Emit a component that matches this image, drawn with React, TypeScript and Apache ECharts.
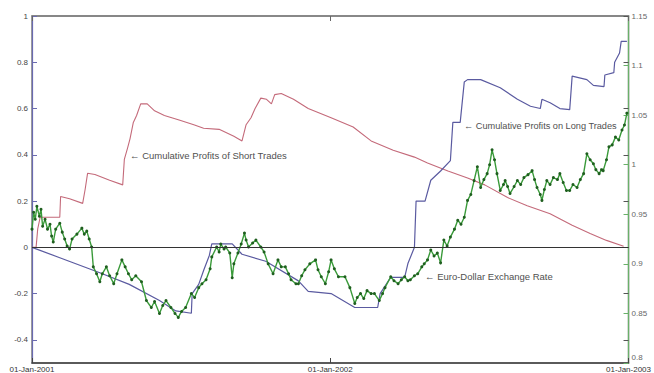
import React, { useEffect, useRef } from "react";
import * as echarts from "echarts";

// x values are days since 01-Jan-2001
const xTickLabels = ["01-Jan-2001", "01-Jan-2002", "01-Jan-2003"];
const leftTickValues = [-0.4, -0.2, 0, 0.2, 0.4, 0.6, 0.8, 1];

const shortDays = [0, 5, 7, 10, 34, 35, 46, 62, 65, 68, 77, 95, 111, 113, 117, 120, 124, 128, 133, 141, 150, 162, 180, 198, 210, 229, 247, 257, 262, 268, 273, 280, 287, 293, 297, 305, 320, 338, 366, 393, 415, 442, 468, 484, 509, 533, 554, 582, 606, 634, 661, 683, 703, 724];
const shortProfit = [0, 0, 0.08, 0.13, 0.13, 0.22, 0.21, 0.19, 0.25, 0.32, 0.315, 0.29, 0.27, 0.38, 0.43, 0.47, 0.54, 0.57, 0.62, 0.62, 0.59, 0.57, 0.55, 0.53, 0.515, 0.51, 0.48, 0.46, 0.53, 0.56, 0.6, 0.645, 0.64, 0.62, 0.66, 0.665, 0.64, 0.6, 0.56, 0.52, 0.46, 0.42, 0.39, 0.365, 0.33, 0.3, 0.27, 0.215, 0.18, 0.145, 0.095, 0.06, 0.03, 0.005];

const longDays = [0, 34, 83, 119, 156, 176, 195, 196, 204, 210, 217, 220, 245, 257, 286, 326, 338, 366, 395, 423, 426, 439, 456, 460, 468, 470, 481, 488, 500, 512, 515, 524, 529, 533, 549, 573, 594, 610, 622, 624, 634, 646, 658, 661, 679, 687, 700, 701, 712, 713, 719, 721, 728];
const longProfit = [0, -0.045, -0.11, -0.16, -0.23, -0.275, -0.285, -0.2, -0.16, -0.1, -0.035, 0.015, 0.015, -0.03, -0.06, -0.145, -0.19, -0.2, -0.26, -0.26, -0.2, -0.13, -0.13, -0.07, 0, 0.2, 0.2, 0.29, 0.33, 0.375, 0.54, 0.54, 0.715, 0.725, 0.725, 0.69, 0.64, 0.61, 0.6, 0.64, 0.625, 0.6, 0.595, 0.74, 0.725, 0.7, 0.695, 0.745, 0.755, 0.8, 0.84, 0.89, 0.89];

const rateDays = [0, 2, 4, 6, 9, 11, 13, 16, 19, 22, 24, 26, 29, 34, 37, 40, 43, 46, 49, 55, 61, 64, 67, 70, 73, 75, 79, 83, 86, 91, 95, 100, 104, 110, 114, 118, 122, 127, 134, 140, 146, 150, 156, 160, 164, 170, 175, 179, 183, 188, 195, 199, 204, 208, 213, 218, 220, 226, 229, 231, 235, 237, 242, 245, 247, 252, 256, 260, 262, 265, 270, 274, 280, 284, 289, 295, 301, 305, 310, 314, 317, 323, 326, 330, 334, 340, 347, 350, 354, 359, 363, 366, 370, 375, 383, 389, 395, 398, 402, 406, 410, 415, 419, 425, 429, 432, 439, 443, 448, 452, 456, 460, 463, 468, 472, 477, 480, 484, 488, 492, 496, 500, 504, 508, 512, 517, 521, 525, 529, 533, 537, 541, 545, 549, 553, 557, 560, 563, 566, 569, 573, 577, 579, 582, 585, 590, 594, 598, 602, 607, 612, 615, 618, 622, 624, 627, 630, 634, 638, 643, 646, 650, 654, 658, 662, 667, 671, 675, 679, 683, 687, 690, 694, 697, 699, 703, 706, 710, 714, 718, 722, 725, 728];
const rate = [0.935, 0.952, 0.945, 0.958, 0.948, 0.955, 0.938, 0.945, 0.935, 0.94, 0.928, 0.922, 0.935, 0.941, 0.932, 0.925, 0.918, 0.915, 0.925, 0.93, 0.936, 0.93, 0.933, 0.925, 0.917, 0.897, 0.89, 0.882, 0.89, 0.897, 0.888, 0.88, 0.89, 0.904, 0.897, 0.89, 0.884, 0.888, 0.882, 0.863, 0.856, 0.862, 0.85, 0.858, 0.863, 0.856, 0.85, 0.846, 0.852, 0.856, 0.87, 0.866, 0.876, 0.88, 0.884, 0.895, 0.907, 0.917, 0.912, 0.92, 0.915, 0.917, 0.911, 0.886, 0.9, 0.911, 0.92, 0.931, 0.924, 0.917, 0.921, 0.924, 0.917, 0.912, 0.9, 0.89, 0.904, 0.897, 0.897, 0.89, 0.884, 0.88, 0.88, 0.888, 0.894, 0.9, 0.904, 0.894, 0.887, 0.88, 0.892, 0.904, 0.895, 0.887, 0.887, 0.876, 0.86, 0.866, 0.87, 0.865, 0.873, 0.87, 0.87, 0.863, 0.87, 0.876, 0.887, 0.883, 0.88, 0.884, 0.887, 0.883, 0.884, 0.888, 0.89, 0.897, 0.9, 0.904, 0.914, 0.908, 0.911, 0.901, 0.924, 0.918, 0.927, 0.935, 0.944, 0.94, 0.947, 0.964, 0.97, 0.984, 0.998, 0.977, 0.985, 0.991, 1.0, 1.015, 1.005, 0.991, 0.974, 0.98, 0.984, 0.978, 0.971, 0.978, 0.984, 0.98, 0.987, 0.99, 0.994, 0.985, 0.977, 0.97, 0.964, 0.975, 0.984, 0.98, 0.987, 0.985, 0.991, 0.982, 0.974, 0.974, 0.98, 0.977, 0.985, 0.991, 1.011, 1.005, 1.001, 0.995, 0.991, 0.995, 0.994, 1.005, 1.018, 1.02, 1.028, 1.025, 1.035, 1.04, 1.052];

const zip = (xs: number[], ys: number[]) => xs.map((x, i) => [x, ys[i]]);

const FONT = "Liberation Sans, Arial, sans-serif";

export default function App() {
  const ref = useRef<HTMLDivElement>(null);
  useEffect(() => {
    const chart = echarts.init(ref.current!, null, { renderer: "svg" });
    const xFmt = (v: number) => xTickLabels[Math.round(v / 365)] ?? "";
    const rightFmt = (v: number) => {
      const s = String(Math.round(v * 100) / 100);
      return Math.abs(v - 0.8) < 1e-6 ? "{low|" + s + "}" : s;
    };
    chart.setOption({
      animation: false,
      backgroundColor: "#ffffff",
      grid: {
        left: 32,
        right: 22,
        top: 16,
        bottom: 10,
        containLabel: false,
        show: true,
        borderColor: "#808080",
        borderWidth: 1.5,
        backgroundColor: "transparent",
      },
      xAxis: [
        {
          type: "value",
          min: 0,
          max: 730,
          interval: 365,
          position: "bottom",
          axisLine: { show: true, onZero: false, lineStyle: { color: "#444", width: 1.5 } },
          axisTick: { inside: true, length: 5, lineStyle: { color: "#444" } },
          axisLabel: { formatter: xFmt, fontSize: 8, color: "#333", margin: 2, fontFamily: FONT },
          splitLine: { show: false },
        },
        {
          type: "value",
          min: 0,
          max: 730,
          interval: 365,
          position: "top",
          axisLine: { show: true, onZero: false, lineStyle: { color: "#808080", width: 1.5 } },
          axisTick: { inside: true, length: 5, lineStyle: { color: "#666" } },
          axisLabel: { show: false },
          splitLine: { show: false },
        },
      ],
      yAxis: [
        {
          type: "value",
          min: -0.5,
          max: 1,
          position: "left",
          axisLine: { show: true, onZero: false, lineStyle: { color: "#6a6ab0", width: 1.2 } },
          axisTick: { inside: true, length: 5, customValues: leftTickValues, lineStyle: { color: "#6a6ab0" } },
          axisLabel: { customValues: leftTickValues, fontSize: 8, color: "#444", margin: 4, fontFamily: FONT },
          splitLine: { show: false },
        },
        {
          type: "value",
          min: 0.8,
          max: 1.15,
          interval: 0.05,
          position: "right",
          axisLine: { show: true, onZero: false, lineStyle: { color: "#6ab06a", width: 1.2 } },
          axisTick: { inside: true, length: 5, lineStyle: { color: "#6ab06a" } },
          axisLabel: {
            fontSize: 8,
            color: "#666",
            margin: 3,
            fontFamily: FONT,
            formatter: rightFmt,
            rich: { low: { fontSize: 8, color: "#666", fontFamily: FONT, padding: [0, 0, 11, 0] } },
          },
          splitLine: { show: false },
        },
        {
          type: "value",
          min: -0.5,
          max: 1,
          position: "right",
          axisLine: { show: false, onZero: false },
          axisTick: { inside: true, length: 5, customValues: leftTickValues, lineStyle: { color: "#555" } },
          axisLabel: { show: false },
          splitLine: { show: false },
        },
      ],
      series: [
        {
          name: "Cumulative Profits of Short Trades",
          type: "line",
          xAxisIndex: 0,
          yAxisIndex: 0,
          data: zip(shortDays, shortProfit),
          showSymbol: false,
          lineStyle: { color: "#c46a7a", width: 1.1 },
          markLine: {
            silent: true,
            symbol: "none",
            label: { show: false },
            lineStyle: { color: "#333", width: 1, type: "solid" },
            data: [{ yAxis: 0 }],
          },
          z: 3,
        },
        {
          name: "Cumulative Profits on Long Trades",
          type: "line",
          xAxisIndex: 0,
          yAxisIndex: 0,
          data: zip(longDays, longProfit),
          showSymbol: false,
          lineStyle: { color: "#5a5aa0", width: 1.2 },
          z: 3,
        },
        {
          name: "Euro-Dollar Exchange Rate",
          type: "line",
          xAxisIndex: 0,
          yAxisIndex: 1,
          data: zip(rateDays, rate),
          showSymbol: true,
          symbol: "circle",
          symbolSize: 3,
          itemStyle: { color: "#1f5f1f" },
          lineStyle: { color: "#3a9a3a", width: 1.4 },
          z: 4,
        },
      ],
      graphic: [
        {
          type: "text",
          x: 130,
          y: 155,
          style: { text: "← Cumulative Profits of Short Trades", fontSize: 9.5, fill: "#505050", fontFamily: FONT, verticalAlign: "middle" },
        },
        {
          type: "text",
          x: 464,
          y: 126,
          style: { text: "← Cumulative Profits on Long Trades", fontSize: 9.2, fill: "#505050", fontFamily: FONT, verticalAlign: "middle" },
        },
        {
          type: "text",
          x: 425,
          y: 276,
          style: { text: "← Euro-Dollar Exchange Rate", fontSize: 9.5, fill: "#505050", fontFamily: FONT, verticalAlign: "middle" },
        },
      ],
    });
    return () => chart.dispose();
  }, []);
  return <div ref={ref} style={{ position: "absolute", left: 0, top: 0, width: 654, height: 373 }} />;
}
